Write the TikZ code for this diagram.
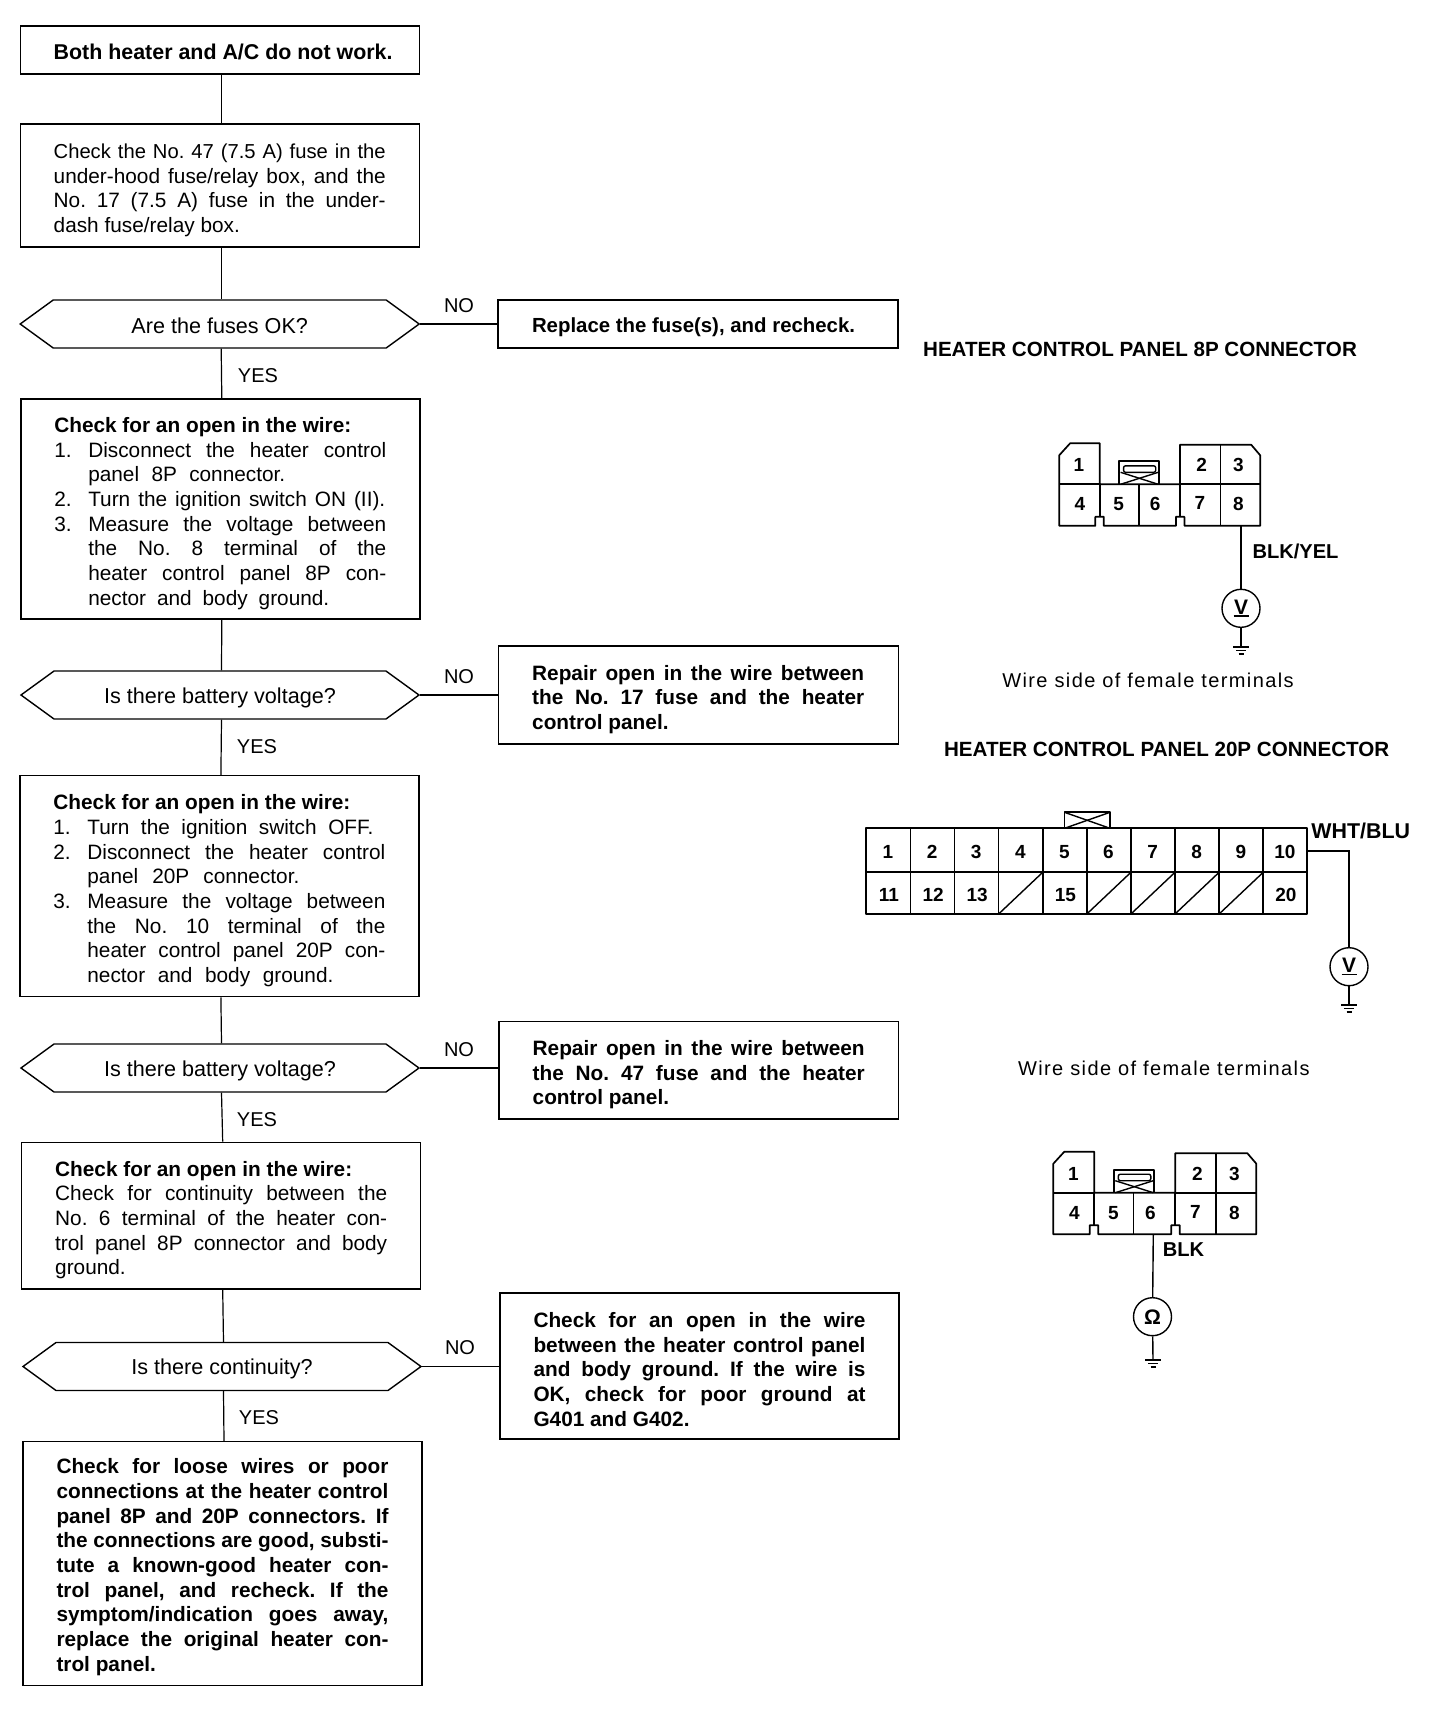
\documentclass[tikz,border=0pt]{standalone}
\usepackage{fontspec}
\setmainfont{Liberation Sans}
\usetikzlibrary{shapes.symbols}

\newcommand{\bodyfont}{\fontsize{20.8}{24.67}\selectfont\frenchspacing}
\newcommand{\jline}[1]{\makebox[332pt][s]{#1}}
\newcommand{\nline}[2]{\makebox[34pt][l]{#1}\makebox[298pt][s]{#2}}
\newcommand{\wline}[3]{\makebox[34pt][l]{#1}\makebox[#2][s]{#3}}
\newcommand{\gndmark}[1]{%
  \draw[wire] ([xshift=-8pt]#1) -- ([xshift=8pt]#1);
  \draw[wire] ([shift={(-5,3.5)}]#1) -- ([shift={(5,3.5)}]#1);
  \draw[wire] ([shift={(-2.5,7)}]#1) -- ([shift={(2.5,7)}]#1);}
% 8P connector: left, top, prefix for the pin names, width factor
\newcommand{\eightp}[4]{%
  \begin{scope}[shift={(#1,#2)}, xscale=#4]
    \draw[housing] (0,12) -- (11,0) -- (41,0) -- (41,41) -- (122,41) -- (122,1.5) -- (194,1.5) -- (203,12)
      -- (203,82.5) -- (126.5,82.5) -- (126.5,73.5) -- (118,73.5) -- (118,82.5) -- (45,82.5)
      -- (45,73.5) -- (36.5,73.5) -- (36.5,82.5) -- (0,82.5) -- cycle;
    \draw[housing] (0,41) -- (41,41) -- (41,73.5);
    \draw[housing] (122,41) -- (203,41);
    \draw[housing] (122,41) -- (122,73.5);
    \draw[housing] (80.3,41) -- (80.3,82.5);
    \draw[housing] (163,1.5) -- (163,82.5);
    % lock tab
    \draw[housing] (60.6,41) -- (60.6,18) -- (101,18) -- (101,41);
    \draw[wire, rounded corners=2pt] (65,22.5) rectangle (97.5,29);
    \draw[wire] (62,29) -- (100,41);
    \draw[wire] (100,29) -- (62,41);
    \foreach \n/\x/\y in {1/20/22,2/144/22,3/181/22,4/21/61,5/60/61,6/97/61,7/142/60,8/181/61}{
      \node[pinlab] (#3\n) at (\x,\y) {\n};
    }
  \end{scope}}

\begin{document}
\begin{tikzpicture}[x=1pt, y=-1pt,
    flowbox/.style={draw, line width=1.4pt, inner sep=0pt, text width=332pt, align=flush left, minimum width=399pt, font=\bodyfont,
      execute at begin node={\rule{0pt}{#1}}},
    flowbox/.default=24pt,
    boldbox/.style={flowbox=#1, font=\bodyfont\bfseries},
    boldbox/.default=24pt,
    check/.style={draw, line width=1.4pt, inner sep=0pt, shape=signal, signal to=east and west, signal pointer angle=72,
      minimum width=398pt, minimum height=48pt, align=flush center, font=\fontsize{21.6}{25}\selectfont,
      execute at begin node={\rule{0pt}{#1}}},
    check/.default=21pt,
    link/.style={line width=1.2pt},
    wire/.style={line width=1.4pt},
    housing/.style={line width=1.7pt, line join=round},
    answer/.style={inner sep=0pt, font=\fontsize{20}{24}\selectfont},
    pinlab/.style={inner sep=0pt, font=\fontsize{19}{22}\selectfont\bfseries},
    conntitle/.style={inner sep=0pt, font=\fontsize{20.6}{24}\selectfont\bfseries},
    sidenote/.style={inner sep=0pt, font=\fontsize{20}{24}\selectfont\addfontfeature{LetterSpace=7}},
    meter/.style={draw, circle, line width=1.4pt, inner sep=0pt, minimum size=38pt, font=\fontsize{21}{22}\selectfont\bfseries}]
  \useasboundingbox (0,0) rectangle (1440,1716);

  % left column
  \node[boldbox=20pt, minimum height=48pt, font=\fontsize{21.4}{24.67}\selectfont\bfseries] (start) at (219.7,50) {\mbox{Both heater and A/C do not work.}};
  \node[flowbox, minimum height=123pt] (fuses) at (219.7,185.5) {%
    \jline{\fontsize{20.2}{24.67}\selectfont Check the No. 47 (7.5 A) fuse in the}\\
    \jline{under-hood fuse/relay box, and the}\\
    \jline{No. 17 (7.5 A) fuse in the under-}\\
    dash fuse/relay box.};
  \node[check=19pt, minimum width=399pt] (okfuse) at (219.7,324) {Are the fuses OK?};
  \node[flowbox, minimum height=220pt] (open8p) at (220.3,509) {%
    \textbf{Check for an open in the wire:}\\
    \nline{1.}{Disconnect the heater control}\\
    \wline{}{197pt}{panel 8P connector.}\\
    \wline{2.}{297pt}{Turn the ignition switch ON (II).}\\
    \nline{3.}{Measure the voltage between}\\
    \nline{}{the No. 8 terminal of the}\\
    \nline{}{heater control panel 8P con-}\\
    \wline{}{241pt}{nector and body ground.}};
  \node[check=22pt] (bat1) at (220,695) {Is there battery voltage?};
  \node[flowbox, minimum height=221pt] (open20p) at (219.4,886.2) {%
    \textbf{Check for an open in the wire:}\\
    \wline{1.}{286pt}{Turn the ignition switch OFF.}\\
    \nline{2.}{Disconnect the heater control}\\
    \wline{}{212pt}{panel 20P connector.}\\
    \nline{3.}{Measure the voltage between}\\
    \nline{}{the No. 10 terminal of the}\\
    \nline{}{heater control panel 20P con-}\\
    \wline{}{246pt}{nector and body ground.}};
  \node[check=22pt] (bat2) at (220,1068) {Is there battery voltage?};
  \node[flowbox, minimum height=146.7pt] (opengnd) at (221.2,1215.6) {%
    \textbf{Check for an open in the wire:}\\
    \jline{Check for continuity between the}\\
    \jline{No. 6 terminal of the heater con-}\\
    \jline{trol panel 8P connector and body}\\
    ground.};
  \node[check] (cont) at (222,1366.5) {Is there continuity?};
  \node[boldbox=22pt, minimum height=244.2pt] (last) at (222.5,1563.6) {%
    \jline{Check for loose wires or poor}\\
    \jline{connections at the heater control}\\
    \jline{panel 8P and 20P connectors. If}\\
    \jline{the connections are good, substi-}\\
    \jline{tute a known-good heater con-}\\
    \jline{trol panel, and recheck. If the}\\
    \jline{symptom/indication goes away,}\\
    \jline{replace the original heater con-}\\
    trol panel.};

  % right column of the chart
  \node[boldbox=22pt, minimum width=400pt, minimum height=48pt, font=\fontsize{20.4}{24.67}\selectfont\bfseries] (rfuse) at (698,324) {Replace the fuse(s), and recheck.};
  \node[boldbox, minimum width=400pt, minimum height=98pt] (r17) at (698.2,695) {%
    \jline{Repair open in the wire between}\\
    \jline{the No. 17 fuse and the heater}\\
    control panel.};
  \node[boldbox, minimum width=399.5pt, minimum height=97.3pt] (r47) at (698.7,1070.3) {%
    \jline{Repair open in the wire between}\\
    \jline{the No. 47 fuse and the heater}\\
    control panel.};
  \node[boldbox=22pt, minimum height=146pt] (rgnd) at (699.5,1366) {%
    \jline{Check for an open in the wire}\\
    \jline{between the heater control panel}\\
    \jline{and body ground. If the wire is}\\
    \jline{OK, check for poor ground at}\\
    G401 and G402.};

  % links
  \foreach \a/\b in {start/fuses,fuses/okfuse,okfuse/open8p,open8p/bat1,bat1/open20p,open20p/bat2,bat2/opengnd,opengnd/cont,cont/last}{
    \draw[link] ([xshift=1.5pt]\a.south) -- ([xshift=1.5pt]\b.north);
  }
  \foreach \a/\b in {okfuse/rfuse,bat1/r17,bat2/r47,cont/rgnd}{
    \draw[link] (\a.east) -- (\a.east -| \b.west);
  }
  \foreach \n/\x/\y in {no1/459/306,no2/459/677,no3/459/1050,no4/460/1348}{
    \node[answer] (\n) at (\x,\y) {NO};
  }
  \foreach \n/\x/\y in {yes1/258/376,yes2/257/747,yes3/257/1120,yes4/259/1418}{
    \node[answer] (\n) at (\x,\y) {YES};
  }

  % 8P connector, voltage
  \node[conntitle] (title8p) at (1140,349) {HEATER CONTROL PANEL 8P CONNECTOR};
  \eightp{1059.2}{443.3}{p}{.99}
  \coordinate (w8) at (1241,525.8);
  \node[meter] (volt1) at (1241,608.3) {\shortstack{V\\[-2pt]\rule{15pt}{1.6pt}}};
  \coordinate (g1) at (1241,647);
  \draw[wire] (w8) -- (volt1);
  \draw[wire] (volt1) -- (g1);
  \gndmark{g1}
  \node[inner sep=0pt, font=\fontsize{20.1}{24}\selectfont\bfseries] (lblyel) at (1295.5,551.7) {BLK/YEL};
  \node[sidenote] (side1) at (1148,680) {Wire side of female terminals};

  % 20P connector, voltage
  \node[conntitle] (title20p) at (1166.7,749.3) {HEATER CONTROL PANEL 20P CONNECTOR};
  \draw[housing] (866.3,828.3) rectangle (1307.3,914);
  \draw[housing] (866.3,872.3) -- (1307.3,872.3);
  \foreach \c in {1,...,9}{
    \draw[housing] ({866.3+44.1*\c},828.3) -- ({866.3+44.1*\c},914);
  }
  \foreach \c in {3,5,6,7,8}{
    \draw[wire] ({866.3+44.1*\c},914) -- ({866.3+44.1*(\c+1)},872.3);
  }
  \draw[housing] (1064.5,828.3) -- (1064.5,812.3) -- (1110,812.3) -- (1110,828.3);
  \draw[wire] (1064.5,812.3) -- (1110,828.3);
  \draw[wire] (1110,812.3) -- (1064.5,828.3);
  \foreach \n in {1,...,10}{
    \node[pinlab] (t\n) at ({888+44.1*(\n-1)},851.7) {\n};
  }
  \foreach \n/\c in {11/0,12/1,13/2,15/4,20/9}{
    \node[pinlab] (t\n) at ({889+44.1*\c},895) {\n};
  }
  \coordinate (w10) at (1307.3,851);
  \node[meter] (volt2) at (1349,966.7) {\shortstack{V\\[-2pt]\rule{15pt}{1.6pt}}};
  \coordinate (g2) at (1349,1005);
  \draw[wire] (w10) -| (volt2);
  \draw[wire] (volt2) -- (g2);
  \gndmark{g2}
  \node[inner sep=0pt, font=\fontsize{21.4}{24}\selectfont\bfseries] (lblblu) at (1360.8,830.7) {WHT/BLU};
  \node[sidenote] (side2) at (1163.8,1068.3) {Wire side of female terminals};

  % 8P connector, continuity
  \eightp{1053.3}{1151.7}{q}{1}
  \coordinate (w6) at (1153.3,1234.2);
  \node[meter] (ohm) at (1152.5,1316.7) {Ω};
  \coordinate (g3) at (1153,1360);
  \draw[wire] (w6) -- (ohm);
  \draw[wire] (ohm) -- (g3);
  \gndmark{g3}
  \node[inner sep=0pt, font=\fontsize{20.1}{24}\selectfont\bfseries] (lblblk) at (1183.4,1250) {BLK};
\end{tikzpicture}
\end{document}
